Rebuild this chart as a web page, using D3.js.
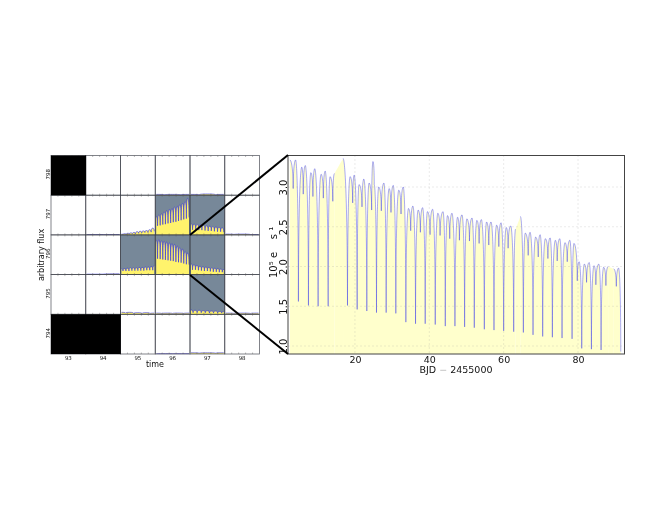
<!DOCTYPE html>
<html>
<head>
<meta charset="utf-8">
<script src="https://cdn.jsdelivr.net/npm/d3@7"></script>
<style>
body { margin: 0; background: #fff; }
svg { display: block; filter: blur(.35px); }
text { font-family: "DejaVu Sans", sans-serif; fill: #111; }
</style>
</head>
<body>
<svg width="660" height="510"></svg>
<script>
// pixel map
const columns = [93, 94, 95, 96, 97, 98];
const rows = [798, 797, 796, 795, 794];
const blackCells = ["93-798", "93-794", "94-794"];
const apertureCells = ["96-797", "97-797", "95-796", "96-796", "97-796", "97-795"];

// pixel light curves, alternating peak / dip, fraction of cell height
const pix96_797 = [.46,.23,.50,.24,.53,.26,.58,.27,.61,.29,.64,.30,.66,.32,.70,.33,.72,.35,.76,.37,.79,.39,.84,.41,.92,.44];
const pix96_796 = [.87,.40,.88,.39,.85,.38,.84,.37,.82,.36,.80,.35,.78,.34,.76,.32,.72,.31,.68,.30,.64,.28,.58,.26,.54,.25];
const pix95_796 = [.14,.09,.15,.09,.16,.09,.17,.10,.17,.10,.17,.10,.18,.10,.18,.10,.19,.11,.19,.11,.20,.11,.22];
const pix97_796 = [.27,.12,.25,.12,.23,.11,.21,.10,.20,.09,.19,.09,.18,.08,.17,.07,.16,.07,.15,.06,.14,.06,.13];
const pix97_797 = [.28,.13,.27,.13,.26,.12,.25,.12,.24,.11,.23,.10,.22,.10,.21,.09,.20,.08,.19,.08,.18,.07];
const pix97_795 = [.11,.04,.10,.04,.10,.04,.09,.04,.09,.03,.08,.03,.08,.03,.07,.03,.07];
const pix95_797 = [.02,.01,.03,.01,.04,.02,.05,.03,.06,.03,.08,.04,.09,.05,.10,.06,.11,.06,.13,.07,.17,.09];
const pix95_795 = [.05,.03,.05,.02,.04,.02,.04,.02,.03];
const pix96_795 = [.03,.02,.03,.02,.03,.02,.03];
const pix98_795 = [.03,.02,.03,.02,.03];
const pix98_797 = [.02,.01,.02,.01,.01];
const pix96_798 = [.02,.01,.02,.01,.02];
const pix97_798 = [.02,.01,.03,.01,.02];
const pix97_794 = [.03,.02,.03,.02,.03];
const pix96_794 = [.01,.01,.01];
const pix94_796 = [.01,.01,.02];
const pix94_797 = [.01,.01,.01];

const pixelCurves = {
  "96-797": pix96_797, "96-796": pix96_796, "95-796": pix95_796, "97-796": pix97_796,
  "97-797": pix97_797, "97-795": pix97_795, "95-797": pix95_797, "95-795": pix95_795,
  "96-795": pix96_795, "98-795": pix98_795, "98-797": pix98_797, "96-798": pix96_798,
  "97-798": pix97_798, "97-794": pix97_794, "96-794": pix96_794, "94-796": pix94_796,
  "94-797": pix94_797
};

// total light curve, one pair of arrays per stretch of data
const time1 = [2.5,3.4,4.05,4.8,5.7,6.1,6.65,7.5,8.15,8.7,9.2,10.1,10.9,11.5,12,12.8,13.3,14.05,14.5];
const flux1 = [3.34,2.98,3.34,1.56,3.25,2.91,3.27,1.51,3.18,2.88,3.23,1.50,3.16,2.86,3.2,1.50,3.13,2.82,3.17];
const time2 = [16.8,18,18.7,19.4,19.8,20.6,21.1,21.9,22.4,23.2,23.8,24.5,24.85,25.2,25.8,26.4,27.1,27.8,28.4,29.2,29.7,30.3,31,31.8,32.4,33,33.7,34.4,35,35.6,36.3,37,37.6,38.2,38.9,39.5,40.2,40.9,41.6,42.3,42.9,43.7,44.3,44.9,45.5,46.1,46.9,47.6,48.1,48.8,49.5,50.1,50.8,51.5,52.1,52.8,53.4,54,54.8,55.4,56,56.6,57.4,58.1,58.7,59.3,60,60.7,61.2,61.9,62.7,63.2];
const flux2 = [3.36,1.51,3.13,2.8,3.15,1.46,3.03,2.75,3.1,1.44,3.05,2.71,3.32,3.03,1.42,3,2.7,3.05,1.42,2.98,2.68,3.02,1.41,2.96,2.66,3,1.3,2.73,2.45,2.76,1.28,2.71,2.43,2.74,1.28,2.69,2.4,2.72,1.27,2.67,2.39,2.69,1.25,2.64,2.35,2.67,1.25,2.62,2.33,2.65,1.24,2.6,2.32,2.61,1.23,2.58,2.29,2.59,1.21,2.56,2.27,2.56,1.2,2.52,2.25,2.55,1.19,2.49,2.23,2.51,1.18,2.47];
const time3 = [64.5,65.3,65.8,66.6,67.1,67.9,68.6,69.3,69.8,70.5,71.2,71.9,72.5,73.1,73.9,74.4,75.1,75.7,76.5,77.1,77.8,78.4,78.9,79.8,80.3,81,81.7,82.3,83,83.6,84.3,84.8,85.6,86.2,86.9,87.5,88.1];
const flux3 = [2.63,1.17,2.42,2.14,2.43,1.14,2.37,2.12,2.4,1.12,2.35,2.1,2.36,1.11,2.33,2.07,2.35,1.1,2.3,2.06,2.33,1.09,2.29,1.82,2.06,0.97,2.03,1.8,2.05,0.96,2.01,1.77,2.03,0.95,1.99,1.76,2];
const time4 = [89.6,90.3,90.9,91.5];
const flux4 = [1.97,1.75,1.98,0.93];

const stretches = [[time1, flux1], [time2, flux2], [time3, flux3], [time4, flux4]];

const xTicks = [20, 40, 60, 80];
const yTicks = [1.0, 1.5, 2.0, 2.5, 3.0];

const svg = d3.select("svg");

// peaks stay rounded, eclipses plunge: the steep part sits close to the dip
// top = how far the flat top reaches along a segment
function curveDip(top, lip) {
  return function(context) {
    let line = NaN, n = 0, x0, y0;
    function seg(x, y) {
      const dx = x - x0, dy = y - y0;
      if (dy > 0) context.bezierCurveTo(x0 + dx * top, y0, x - dx * .06, y0 + dy * lip, x, y);
      else context.bezierCurveTo(x0 + dx * .06, y - dy * lip, x - dx * top, y, x, y);
    }
    return {
      areaStart() { line = 0; },
      areaEnd() { line = NaN; },
      lineStart() { n = 0; },
      lineEnd() { if (line || (line !== 0 && n === 1)) context.closePath(); line = 1 - line; },
      point(x, y) {
        x = +x; y = +y;
        if (n === 0) { n = 1; line ? context.lineTo(x, y) : context.moveTo(x, y); }
        else { n = 2; seg(x, y); }
        x0 = x; y0 = y;
      }
    };
  };
}
const pixelCurve = curveDip(.7, .3);
const totalCurve = curveDip(.3, .15);

// ---- left: pixel grid
const gridX = d3.scaleBand().domain(columns).range([51, 259.5]);
const gridY = d3.scaleBand().domain(rows).range([155.5, 354]);

const left = svg.append("g");
const cellKeys = d3.cross(columns, rows).map(([c, r]) => ({ c, r, key: c + "-" + r }));

left.selectAll("rect.cell")
  .data(cellKeys.filter(d => apertureCells.includes(d.key)))
  .enter().append("rect")
  .attr("class", "cell")
  .attr("x", d => gridX(d.c))
  .attr("y", d => gridY(d.r))
  .attr("width", gridX.bandwidth())
  .attr("height", gridY.bandwidth())
  .attr("fill", "#778899");

cellKeys.filter(d => pixelCurves[d.key]).forEach(d => {
  const vals = pixelCurves[d.key];
  const x = d3.scaleLinear().domain([0, vals.length - 1]).range([gridX(d.c) + 1, gridX(d.c) + gridX.bandwidth() - 1]);
  const y = d3.scaleLinear().domain([0, 1]).range([gridY(d.r) + gridY.bandwidth(), gridY(d.r)]);
  left.append("path")
    .attr("d", d3.area().x((v, i) => x(i)).y0(y(0)).y1(v => y(v)).curve(pixelCurve)(vals))
    .attr("fill", "#fff36c");
  left.append("path")
    .attr("d", d3.line().x((v, i) => x(i)).y(v => y(v)).curve(pixelCurve)(vals))
    .attr("fill", "none")
    .attr("stroke", "#2a2ae8")
    .attr("stroke-opacity", .65)
    .attr("stroke-width", .9);
});

// cell frames and their tiny ticks
left.selectAll("rect.frame")
  .data(cellKeys)
  .enter().append("rect")
  .attr("class", "frame")
  .attr("x", d => gridX(d.c))
  .attr("y", d => gridY(d.r))
  .attr("width", gridX.bandwidth())
  .attr("height", gridY.bandwidth())
  .attr("fill", "none")
  .attr("stroke", "#3c3f48")
  .attr("stroke-opacity", .8)
  .attr("stroke-width", .8);

cellKeys.forEach(d => {
  const tx = d3.scaleLinear().domain([0, 1]).range([gridX(d.c), gridX(d.c) + gridX.bandwidth()]);
  [.2, .4, .6, .8].forEach(f => {
    left.append("line")
      .attr("x1", tx(f)).attr("x2", tx(f))
      .attr("y1", gridY(d.r) + gridY.bandwidth()).attr("y2", gridY(d.r) + gridY.bandwidth() - 1.5)
      .attr("stroke", "#555").attr("stroke-width", .4);
    left.append("line")
      .attr("x1", tx(f)).attr("x2", tx(f))
      .attr("y1", gridY(d.r)).attr("y2", gridY(d.r) + 1.5)
      .attr("stroke", "#555").attr("stroke-width", .4);
  });
});

// dead pixels go last so no frame shows through them
left.selectAll("rect.dead")
  .data(cellKeys.filter(d => blackCells.includes(d.key)))
  .enter().append("rect")
  .attr("class", "dead")
  .attr("x", d => gridX(d.c))
  .attr("y", d => gridY(d.r))
  .attr("width", gridX.bandwidth() + .3)
  .attr("height", gridY.bandwidth())
  .attr("fill", "#000");

const gridAxis = left.append("g")
  .attr("transform", "translate(0,354)")
  .call(d3.axisBottom(gridX).tickSize(0).tickPadding(2));
gridAxis.select(".domain").remove();
gridAxis.selectAll("text").attr("font-size", 5.5).style("font-family", "DejaVu Sans");

left.selectAll("text.rowlabel")
  .data(rows)
  .enter().append("text")
  .attr("class", "rowlabel")
  .attr("transform", d => `translate(49.5,${gridY(d) + gridY.bandwidth() / 2 - 1}) rotate(-90)`)
  .attr("text-anchor", "middle")
  .attr("font-size", 5.5)
  .text(d => d);

left.append("text")
  .attr("x", 155).attr("y", 366.5)
  .attr("text-anchor", "middle")
  .attr("font-size", 8)
  .text("time");

left.append("text")
  .attr("transform", "translate(44,255) rotate(-90)")
  .attr("text-anchor", "middle")
  .attr("font-size", 8)
  .text("arbitrary flux");

// ---- right: total light curve
const x = d3.scaleLinear().domain([2, 92.5]).range([288, 624.5]);
const y = d3.scaleLinear().domain([1, 3]).range([346, 187]);
const bottomFlux = y.invert(354);

const right = svg.append("g");
const area = d3.area().x(d => x(d[0])).y0(y(bottomFlux)).y1(d => y(d[1])).curve(totalCurve);
const line = d3.line().x(d => x(d[0])).y(d => y(d[1])).curve(totalCurve);
const ramp = d3.area().x(d => x(d[0])).y0(y(bottomFlux)).y1(d => y(d[1]));

stretches.forEach(([t, f], i) => {
  const pts = d3.zip(t, f);
  right.append("path").attr("d", area(pts)).attr("fill", "#ffffcc");
  if (i > 0) {
    // data gap: the fill just runs straight across it
    const prev = stretches[i - 1];
    const n = prev[0].length - 1;
    right.append("path")
      .attr("d", ramp([[prev[0][n], prev[1][n]], [t[0], f[0]]]))
      .attr("fill", "#ffffcc");
  }
});
stretches.forEach(([t, f]) => {
  right.append("path")
    .attr("d", line(d3.zip(t, f)))
    .attr("fill", "none")
    .attr("stroke", "#1010f0")
    .attr("stroke-opacity", .65)
    .attr("stroke-width", .55);
});

const xAxis = right.append("g")
  .attr("transform", "translate(0,354)")
  .call(d3.axisBottom(x).tickValues(xTicks).tickSize(0).tickPadding(2));
xAxis.select(".domain").remove();
xAxis.selectAll("text").attr("font-size", 9.5).style("font-family", "DejaVu Sans").attr("dy", "0.72em");

const yAxis = right.append("g")
  .attr("transform", "translate(288,0)")
  .call(d3.axisLeft(y).tickValues(yTicks).tickFormat(d3.format(".1f")).tickSize(0));
yAxis.select(".domain").remove();
yAxis.selectAll("text")
  .attr("font-size", 10)
  .style("font-family", "DejaVu Sans")
  .attr("text-anchor", "middle")
  .attr("dy", 0)
  .attr("x", 0)
  .attr("y", 0)
  .attr("transform", "translate(-1.5,0) rotate(-90)");

// dashed grid
right.selectAll("line.gx").data(xTicks).enter().append("line")
  .attr("class", "gx")
  .attr("x1", d => x(d)).attr("x2", d => x(d)).attr("y1", 155).attr("y2", 354)
  .attr("stroke", "#999").attr("stroke-opacity", .35).attr("stroke-width", .6).attr("stroke-dasharray", "2,2");
right.selectAll("line.gy").data(yTicks).enter().append("line")
  .attr("class", "gy")
  .attr("x1", 288).attr("x2", 624.5).attr("y1", d => y(d)).attr("y2", d => y(d))
  .attr("stroke", "#999").attr("stroke-opacity", .35).attr("stroke-width", .6).attr("stroke-dasharray", "2,2");

right.append("rect")
  .attr("x", 288).attr("y", 155.5).attr("width", 336.5).attr("height", 198.5)
  .attr("fill", "none").attr("stroke", "#444").attr("stroke-width", 1);

const xLabel = right.append("text")
  .attr("x", 456).attr("y", 372.5)
  .attr("text-anchor", "middle")
  .attr("font-size", 9.5)
  .style("white-space", "pre");
xLabel.append("tspan").text("BJD ");
xLabel.append("tspan").style("fill", "#bbb").text("\u2212");
xLabel.append("tspan").text(" 2455000");

right.append("text")
  .attr("transform", "translate(277,278) rotate(-90)")
  .attr("font-size", 10)
  .style("white-space", "pre")
  .text("10\u2075 e    s \u00b9");

// zoom connectors run over both panels
svg.append("line").attr("x1", 190).attr("y1", 235).attr("x2", 288).attr("y2", 155)
  .attr("stroke", "#000").attr("stroke-width", 2);
svg.append("line").attr("x1", 190).attr("y1", 275).attr("x2", 288).attr("y2", 354)
  .attr("stroke", "#000").attr("stroke-width", 2);
</script>
</body>
</html>
